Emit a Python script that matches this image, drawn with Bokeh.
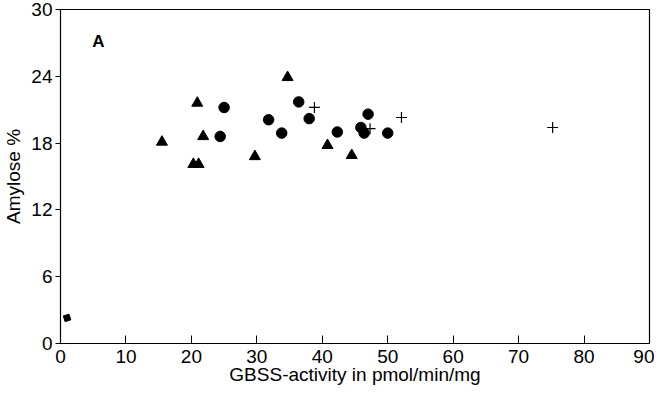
from bokeh.plotting import figure
from bokeh.embed import file_html
from bokeh.resources import INLINE
from bokeh.models import Range1d, FixedTicker, Label

# Data (GBSS activity in pmol/min/mg, amylose %)
tri_x = [15.5, 20.9, 21.8, 20.3, 21.1, 29.7, 34.7, 40.8, 44.5]
tri_y = [18.1, 21.6, 18.6, 16.1, 16.1, 16.8, 23.9, 17.8, 16.9]

circ_x = [25.0, 24.4, 31.8, 33.8, 36.4, 38.0, 42.3, 47.0, 45.9, 46.4, 50.0]
circ_y = [21.2, 18.6, 20.1, 18.9, 21.7, 20.2, 19.0, 20.6, 19.4, 18.9, 18.9]

plus_x = [38.8, 47.3, 52.1, 75.2]
plus_y = [21.2, 19.3, 20.3, 19.4]

sq_x = [1.0]
sq_y = [2.3]

x_ticks = [0, 10, 20, 30, 40, 50, 60, 70, 80, 90]
y_ticks = [0, 6, 12, 18, 24, 30]

FONT = "Liberation Sans"

p = figure(width=654, height=393, output_backend="svg", toolbar_location=None,
           x_range=Range1d(0, 90), y_range=Range1d(0, 30),
           min_border_left=55, min_border_top=15, min_border_right=5, min_border_bottom=0,
           margin=(-6, 0, 0, 0))

p.xgrid.visible = False
p.ygrid.visible = False
p.outline_line_color = "black"
p.outline_line_width = 1.2

p.triangle(tri_x, tri_y, size=11, color="black")
p.scatter(circ_x, circ_y, marker="circle", size=10.5, color="black")
p.scatter(plus_x, plus_y, marker="cross", size=11, line_color="black", line_width=1.2)
p.scatter(sq_x, sq_y, marker="square", size=6, color="black", angle=0.3)

p.xaxis.ticker = FixedTicker(ticks=x_ticks)
p.yaxis.ticker = FixedTicker(ticks=y_ticks)
p.xaxis.minor_tick_line_color = None
p.yaxis.minor_tick_line_color = None
p.xaxis.major_tick_in = 8
p.xaxis.major_tick_out = 0
p.yaxis.major_tick_in = 0
p.yaxis.major_tick_out = 5
for ax in (p.xaxis, p.yaxis):
    ax.axis_line_color = "black"
    ax.major_tick_line_color = "black"
    ax.major_label_text_font = FONT
    ax.major_label_text_font_size = "19px"
    ax.major_label_text_color = "black"
    ax.axis_label_text_font = FONT
    ax.axis_label_text_font_size = "19px"
    ax.axis_label_text_font_style = "normal"
    ax.axis_label_text_color = "black"

p.xaxis.major_label_standoff = 6
p.yaxis.major_label_standoff = 3
p.xaxis.axis_label = "GBSS-activity in pmol/min/mg"
p.yaxis.axis_label = "Amylose %"
p.xaxis.axis_label_standoff = -2
p.yaxis.axis_label_standoff = 4

p.add_layout(Label(x=5.8, y=27.1, text="A", text_font=FONT, text_font_size="17px",
                   text_font_style="bold", text_align="center", text_baseline="middle",
                   text_color="black"))

open("out.html", "w").write(file_html(p, INLINE))
